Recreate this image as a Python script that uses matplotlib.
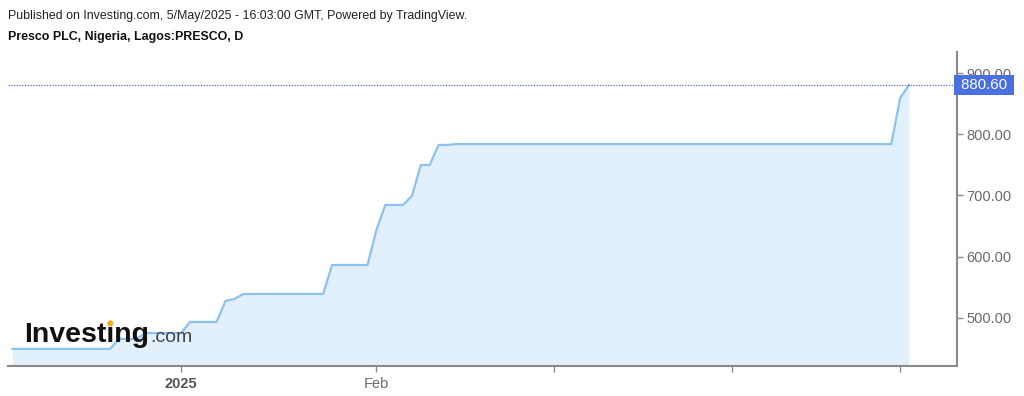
import matplotlib
matplotlib.use("Agg")
import matplotlib.pyplot as plt
import matplotlib.transforms as mtransforms
from matplotlib.patches import Ellipse

# ---- data: daily closes, trading-day index (0 = first session of 2025) ----
day_index = list(range(-19, 83))
close = [
    449.5, 449.5, 449.5, 449.5, 449.5, 449.5, 449.5, 449.5, 449.5, 449.5, 449.5, 449.5,
    466.0, 466.0, 466.0,
    475.5, 475.5, 475.5, 475.5, 475.5,
    493.5, 493.5, 493.5, 493.5,
    527.8, 531.0,
    539.2, 539.2, 539.2, 539.2, 539.2, 539.2, 539.2, 539.2, 539.2, 539.2,
    586.5, 586.5, 586.5, 586.5, 586.5,
    643.7,
    684.5, 684.5, 684.5,
    699.2,
    749.8, 749.8,
    782.5, 782.5,
    784.0, 784.0, 784.0, 784.0, 784.0, 784.0, 784.0, 784.0, 784.0, 784.0,
    784.0, 784.0, 784.0, 784.0, 784.0, 784.0, 784.0, 784.0, 784.0, 784.0,
    784.0, 784.0, 784.0, 784.0, 784.0, 784.0, 784.0, 784.0, 784.0, 784.0,
    784.0, 784.0, 784.0, 784.0, 784.0, 784.0, 784.0, 784.0, 784.0, 784.0,
    784.0, 784.0, 784.0, 784.0, 784.0, 784.0, 784.0, 784.0, 784.0, 784.0,
    859.3, 880.6,
]
month_tick_index = [0, 22, 42, 62, 81]
month_tick_labels = ["2025", "Feb", "", "", ""]
price_ticks = [500, 600, 700, 800, 900]
last_price = 880.6

title_line = "Published on Investing.com, 5/May/2025 - 16:03:00 GMT, Powered by TradingView."
symbol_line = "Presco PLC, Nigeria, Lagos:PRESCO, D"

plt.rcParams['font.family'] = ['Liberation Sans', 'DejaVu Sans']

W, H = 1024, 396
fig = plt.figure(figsize=(W / 100, H / 100), dpi=100)
left_px, right_px, top_px, bottom_px = 8, 957, 52, 366
ax = fig.add_axes([left_px / W, 1 - bottom_px / H,
                   (right_px - left_px) / W, (bottom_px - top_px) / H])

ymin, ymax = 421.6, 934.3
ax.set_ylim(ymin, ymax)
ax.set_xlim(-19.5, 87.4)

line_col = '#8cc1f0'
fill_col = '#e1f0fa'
ax.fill_between(day_index, close, ymin, color=fill_col, lw=0, zorder=1)
ax.plot(day_index, close, color=line_col, lw=1.6, zorder=2, solid_joinstyle='round')

ax.axhline(last_price, color='#5a6ad8', lw=0.9, linestyle=(0, (1, 1.2)), zorder=2)

for s in ['top', 'left']:
    ax.spines[s].set_visible(False)
for s in ['right', 'bottom']:
    ax.spines[s].set_color('#8a8a8a')
    ax.spines[s].set_linewidth(1.5)

ax.yaxis.tick_right()
ax.set_yticks(price_ticks)
ax.set_yticklabels([f"{v:.2f}" for v in price_ticks])
ax.tick_params(axis='y', colors='#8a8a8a', labelcolor='#6a6a6a', length=4, width=1,
               labelsize=10.5, pad=3)
ax.set_xticks(month_tick_index)
ax.set_xticklabels(month_tick_labels)
ax.tick_params(axis='x', colors='#8a8a8a', labelcolor='#6a6a6a', length=4, width=1,
               labelsize=10.5, pad=4)
for lbl in ax.get_xticklabels():
    if lbl.get_text() == "2025":
        lbl.set_fontweight('bold')
        lbl.set_color('#555555')

# last price label (partly covers the 900.00 tick label, as in the source)
trans = mtransforms.blended_transform_factory(ax.transAxes, ax.transData)
ax.text(1.0, last_price, f" {last_price:.2f} ", transform=trans, ha='left', va='center',
        color='white', fontsize=10.8, zorder=10, clip_on=False,
        bbox=dict(boxstyle='square,pad=0.18', fc='#4a6fe0', ec='none'))

# header texts
fig.text(8 / W, 1 - 16 / H, title_line, fontsize=8.9, color='#222222', va='center', ha='left')
fig.text(8 / W, 1 - 37 / H, symbol_line, fontsize=8.9, color='#111111', va='center', ha='left',
         fontweight='bold')

# watermark logo
logo_fs = 20.5
logo_x, logo_base = 24, 342
logo_t = fig.text(logo_x / W, 1 - logo_base / H, "Investing", fontsize=logo_fs, fontweight='bold',
                  color='#111111', va='baseline', ha='left', zorder=20)
fig.canvas.draw()
r = fig.canvas.get_renderer()
bb = logo_t.get_window_extent(r)
fig.text((bb.x1 + 1) / W, 1 - logo_base / H, ".com", fontsize=14, color='#444444',
         va='baseline', ha='left', zorder=20)
# orange dot on the second "i"
tmp1 = fig.text(0, 0, "Invest", fontsize=logo_fs, fontweight='bold')
tmp2 = fig.text(0, 0, "Investi", fontsize=logo_fs, fontweight='bold')
w1 = tmp1.get_window_extent(r).width
w2 = tmp2.get_window_extent(r).width
tmp1.remove(); tmp2.remove()
dot_x = bb.x0 + (w1 + w2) / 2
dot_y_px = logo_base - logo_fs * 100 / 72 * 0.655
fig.patches.append(Ellipse((dot_x / W, 1 - dot_y_px / H), 6 / W, 6 / H, transform=fig.transFigure,
                           fc='#f5a623', ec='none', zorder=21))

fig.savefig("out.png", dpi=100)
